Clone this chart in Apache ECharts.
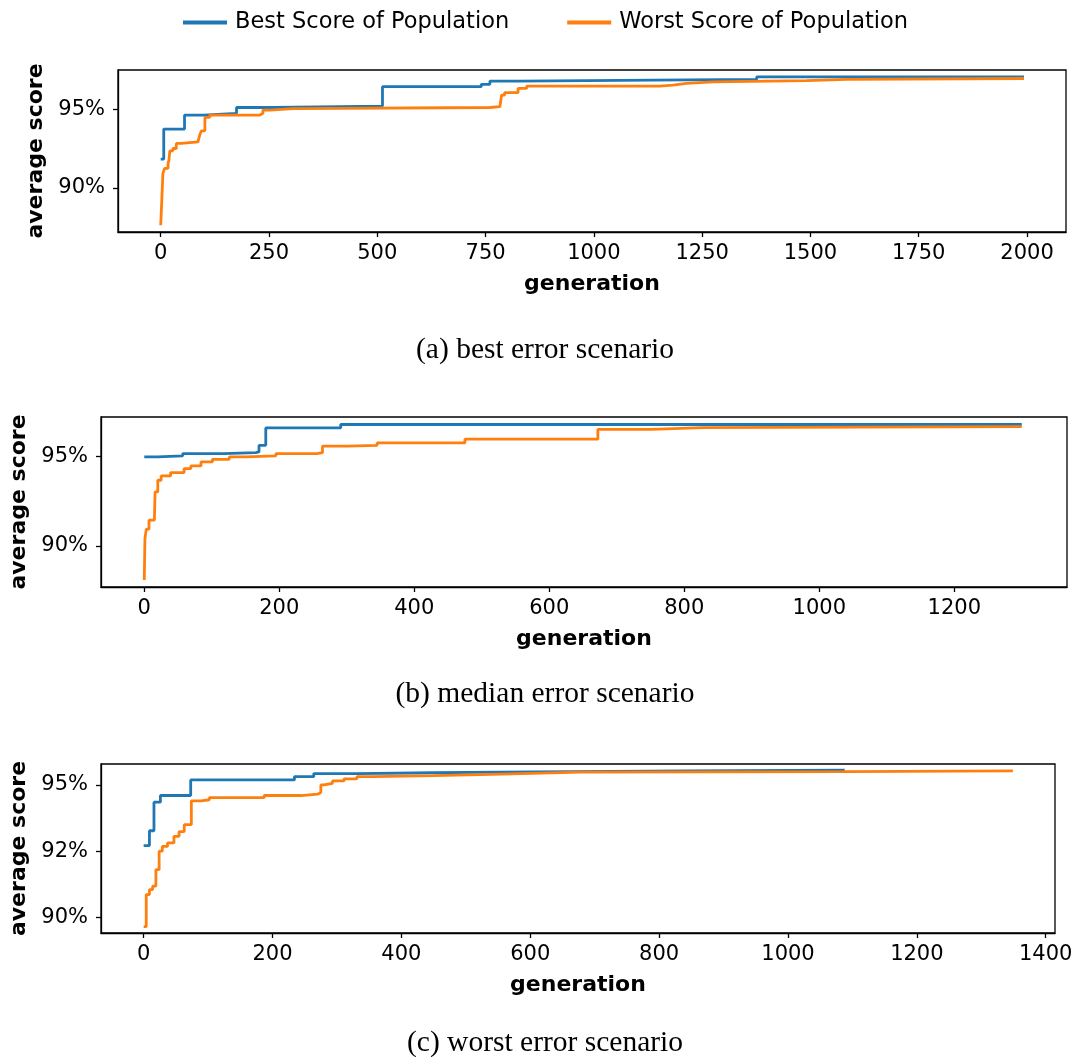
<!DOCTYPE html>
<html>
<head>
<meta charset="utf-8">
<script src="https://cdn.jsdelivr.net/npm/echarts@6/dist/echarts.min.js"></script>
<style>
html,body{margin:0;padding:0;background:#fff;}
#chart{width:1079px;height:1057px;}
</style>
</head>
<body>
<div id="chart"></div>
<script>
// ---------- data ----------
const seriesNames = ['Best Score of Population', 'Worst Score of Population'];
const captions = ['(a) best error scenario', '(b) median error scenario', '(c) worst error scenario'];
const xAxisName = 'generation';
const yAxisName = 'average score';

// panel (a)
const aBestGen  = [0, 7, 55, 100, 175, 260, 512, 740, 760, 825, 1376, 1993];
const aBestVal  = [91.82, 93.73, 94.62, 94.73, 95.10, 95.19, 96.42, 96.57, 96.78, 96.89, 97.05, 97.05];
const aWorstGen = [0, 2, 5, 9, 17, 19, 21, 28, 36, 48, 86, 90, 94, 102, 113, 229, 236, 252, 306, 760, 783, 787, 794, 825, 845, 1152, 1183, 1214, 1276, 1491, 1584, 1993];
const aWorstVal = [87.63, 88.90, 90.90, 91.24, 91.55, 91.76, 92.35, 92.50, 92.82, 92.92, 93.03, 93.35, 93.62, 94.47, 94.62, 94.73, 94.94, 95.03, 95.10, 95.15, 95.25, 95.89, 96.04, 96.31, 96.46, 96.52, 96.63, 96.73, 96.80, 96.89, 96.94, 96.94];
const aXTicks = [0, 250, 500, 750, 1000, 1250, 1500, 1750, 2000];
const aYTicks = [90, 95];

// panel (b)
const bBestGen  = [0, 20, 57, 118, 165, 170, 180, 291, 1300];
const bBestVal  = [94.96, 95.02, 95.15, 95.20, 95.24, 95.61, 96.58, 96.77, 96.77];
const bWorstGen = [0, 1, 3, 7, 15, 16, 20, 25, 39, 59, 69, 84, 101, 126, 150, 195, 256, 264, 301, 345, 475, 672, 751, 828, 1300];
const bWorstVal = [88.09, 90.41, 90.93, 91.43, 91.50, 93.01, 93.66, 93.90, 94.09, 94.31, 94.46, 94.68, 94.83, 94.96, 95.02, 95.15, 95.20, 95.56, 95.61, 95.74, 95.95, 96.50, 96.60, 96.65, 96.65];
const bXTicks = [0, 200, 400, 600, 800, 1000, 1200];
const bYTicks = [90, 95];

// panel (c)
const cBestGen  = [0, 9, 16, 26, 73, 234, 264, 331, 450, 551, 843, 1088];
const cBestVal  = [92.71, 93.27, 94.35, 94.60, 95.19, 95.31, 95.43, 95.46, 95.48, 95.53, 95.56, 95.56];
const cWorstGen = [0, 4, 9, 14, 19, 24, 29, 37, 47, 55, 63, 74, 89, 102, 187, 244, 270, 275, 280, 293, 311, 331, 357, 450, 556, 678, 1088, 1349];
const cWorstVal = [89.65, 90.86, 91.05, 91.18, 91.80, 92.50, 92.68, 92.81, 93.06, 93.24, 93.50, 94.40, 94.44, 94.52, 94.60, 94.65, 94.71, 95.00, 95.06, 95.15, 95.23, 95.31, 95.35, 95.41, 95.48, 95.50, 95.53, 95.53];
const cXTicks = [0, 200, 400, 600, 800, 1000, 1200, 1400];
const cYTicks = [90, 92.5, 95];

// ---------- helpers ----------
const BLUE = '#1f77b4', ORANGE = '#ff7f0e';
const FONT = "'DejaVu Sans', sans-serif";
function pairs(g, v) { return g.map((x, i) => [x, v[i]]); }
// python-like round-half-even percent label
function pct(v) {
  const f = Math.floor(v);
  let r;
  if (Math.abs(v - f - 0.5) < 1e-9) r = (f % 2 === 0) ? f : f + 1;
  else r = Math.round(v);
  return r + '%';
}
function plain(v) { return String(v); }

const panels = [
  { grid: { left: 118, top: 70, width: 948, height: 162 }, xr: [-98.6, 2090], yr: [87.2, 97.48], xt: aXTicks, yt: aYTicks,
    best: pairs(aBestGen, aBestVal), worst: pairs(aWorstGen, aWorstVal), capY: 350 },
  { grid: { left: 100, top: 417, width: 967, height: 170 }, xr: [-64.1, 1367], yr: [87.7, 97.19], xt: bXTicks, yt: bYTicks,
    best: pairs(bBestGen, bBestVal), worst: pairs(bWorstGen, bWorstVal), capY: 694 },
  { grid: { left: 100, top: 764, width: 955, height: 169 }, xr: [-66.2, 1414.4], yr: [89.41, 95.79], xt: cXTicks, yt: cYTicks,
    best: pairs(cBestGen, cBestVal), worst: pairs(cWorstGen, cWorstVal), capY: 1043 }
];

const grids = [], xAxes = [], yAxes = [], series = [], graphics = [];
panels.forEach((p, i) => {
  grids.push(Object.assign({ show: true, borderColor: '#000', borderWidth: 1.3, backgroundColor: 'transparent' }, p.grid));
  xAxes.push({
    type: 'value', gridIndex: i, min: p.xr[0], max: p.xr[1],
    name: xAxisName, nameLocation: 'middle', nameGap: 41,
    nameTextStyle: { fontFamily: FONT, fontSize: 22, fontWeight: 'bold', color: '#000' },
    axisLine: { show: true, onZero: false, lineStyle: { color: '#000', width: 1.3 } },
    axisTick: { show: true, length: 5, lineStyle: { color: '#000', width: 1.3 }, customValues: p.xt },
    axisLabel: { show: true, margin: 11, fontFamily: FONT, fontSize: 21, color: '#000', customValues: p.xt, formatter: plain },
    splitLine: { show: false }
  });
  yAxes.push({
    type: 'value', gridIndex: i, min: p.yr[0], max: p.yr[1],
    name: yAxisName, nameLocation: 'middle', nameRotate: 90, nameGap: 71,
    nameTextStyle: { fontFamily: FONT, fontSize: 22, fontWeight: 'bold', color: '#000' },
    axisLine: { show: true, onZero: false, lineStyle: { color: '#000', width: 1.3 } },
    axisTick: { show: true, length: 5, lineStyle: { color: '#000', width: 1.3 }, customValues: p.yt },
    axisLabel: { show: true, margin: 13, fontFamily: FONT, fontSize: 21, color: '#000', customValues: p.yt, formatter: pct },
    splitLine: { show: false }
  });
  series.push({
    name: seriesNames[0], type: 'line', xAxisIndex: i, yAxisIndex: i, data: p.best, step: 'end',
    showSymbol: false, symbol: 'none', lineStyle: { color: BLUE, width: 2.8 }, itemStyle: { color: BLUE }
  });
  series.push({
    name: seriesNames[1], type: 'line', xAxisIndex: i, yAxisIndex: i, data: p.worst, step: 'end',
    showSymbol: false, symbol: 'none', lineStyle: { color: ORANGE, width: 2.8 }, itemStyle: { color: ORANGE }
  });
  graphics.push({
    type: 'text', x: 545, y: p.capY,
    style: { text: captions[i], textAlign: 'center', textVerticalAlign: 'middle',
      font: "29.5px 'Liberation Serif', 'DejaVu Serif', serif", fill: '#000' }
  });
});

const chart = echarts.init(document.getElementById('chart'), null, { renderer: 'canvas' });
chart.setOption({
  animation: false,
  backgroundColor: '#fff',
  legend: {
    data: seriesNames, top: 6, left: 178, icon: 'rect', itemWidth: 44, itemHeight: 4, itemGap: 58,
    textStyle: { fontFamily: FONT, fontSize: 22.5, color: '#000', padding: [0, 0, 0, 3] }
  },
  grid: grids, xAxis: xAxes, yAxis: yAxes, series: series, graphic: graphics
});
</script>
</body>
</html>
